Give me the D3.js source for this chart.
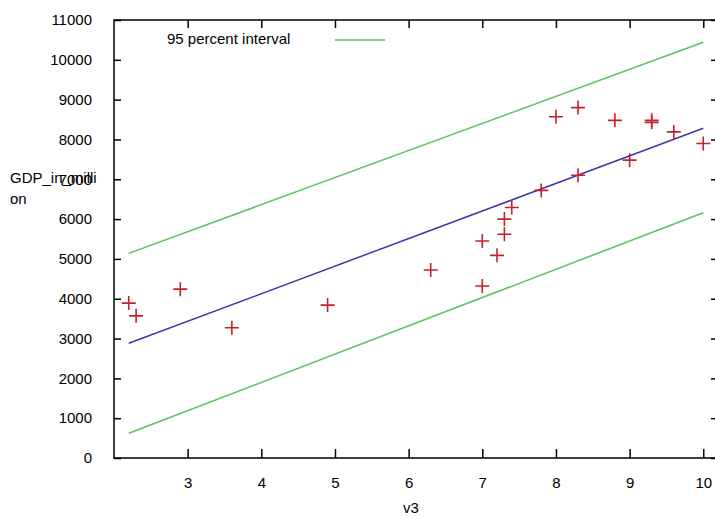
<!DOCTYPE html>
<html>
<head>
<meta charset="utf-8">
<script src="https://cdn.jsdelivr.net/npm/d3@7"></script>
<style>
  html, body { margin: 0; padding: 0; background: #fff; }
  svg { display: block; }
  text { font-family: "Liberation Sans", Arial, sans-serif; font-size: 15px; fill: #000; }
</style>
</head>
<body>
<svg id="chart" width="715" height="517"></svg>
<script>
// Observed data (v3 vs GDP_in_million)
const pointX = [2.2, 2.3, 2.9, 3.6, 4.9, 6.3, 7.0, 7.0, 7.2, 7.3, 7.3, 7.4, 7.8, 8.0, 8.3, 8.3, 8.8, 9.0, 9.3, 9.3, 9.6, 10.0];
const pointY = [3890, 3570, 4240, 3270, 3840, 4720, 5450, 4320, 5090, 5620, 6000, 6290, 6720, 8570, 8800, 7100, 8480, 7480, 8480, 8430, 8190, 7900];

// Fitted line and 95 percent interval (end points)
const lineX  = [2.2, 10.0];
const fitY   = [2880, 8280];
const upperY = [5140, 10440];
const lowerY = [620, 6160];

// Tick labels
const xTicks = [3, 4, 5, 6, 7, 8, 9, 10];
const yTicks = [0, 1000, 2000, 3000, 4000, 5000, 6000, 7000, 8000, 9000, 10000, 11000];

const legendLabel = "95 percent interval";
const xTitle = "v3";
const yTitleLines = ["GDP_in_milli", "on"];

(function () {
const svg = d3.select("#chart");
const pLeft = 114, pRight = 718, pTop = 20, pBottom = 458;

const x = d3.scaleLinear().domain([2, 10.2]).range([pLeft, pRight]);
const y = d3.scaleLinear().domain([0, 11000]).range([pBottom, pTop]);

// frame
svg.append("rect")
  .attr("x", pLeft).attr("y", pTop)
  .attr("width", pRight - pLeft).attr("height", pBottom - pTop)
  .attr("fill", "none").attr("stroke", "#000").attr("stroke-width", 1.5);

// axes (inward ticks)
const bottomAxis = d3.axisBottom(x).tickValues(xTicks).tickSize(-9).tickPadding(19).tickFormat(d3.format("d"));
const gB = svg.append("g").attr("transform", `translate(0,${pBottom})`).call(bottomAxis);
const topAxis = d3.axisTop(x).tickValues(xTicks).tickSize(-8).tickFormat("");
const gT = svg.append("g").attr("transform", `translate(0,${pTop})`).call(topAxis);
const leftAxis = d3.axisLeft(y).tickValues(yTicks).tickSize(-7).tickPadding(22).tickFormat(d3.format("d"));
const gL = svg.append("g").attr("transform", `translate(${pLeft},0)`).call(leftAxis);
const rightAxis = d3.axisRight(y).tickValues(yTicks).tickSize(-7).tickFormat("");
const gR = svg.append("g").attr("transform", `translate(${pRight},0)`).call(rightAxis);

[gB, gT, gL, gR].forEach(g => {
  g.select(".domain").remove();
  g.selectAll(".tick line").attr("stroke", "#000").attr("stroke-width", 1.5);
  g.selectAll("text").attr("font-family", null).attr("font-size", null).style("font-size", "15px").attr("fill", "#000");
});

// lines
const lineGen = d3.line().x(d => x(d[0])).y(d => y(d[1]));
const mk = arr => lineX.map((v, i) => [v, arr[i]]);
svg.append("path").datum(mk(upperY)).attr("d", lineGen)
  .attr("fill", "none").attr("stroke", "#5cbf5c").attr("stroke-width", 1.5);
svg.append("path").datum(mk(lowerY)).attr("d", lineGen)
  .attr("fill", "none").attr("stroke", "#5cbf5c").attr("stroke-width", 1.5);
svg.append("path").datum(mk(fitY)).attr("d", lineGen)
  .attr("fill", "none").attr("stroke", "#3a3aa6").attr("stroke-width", 1.5);

// points (plus markers)
const pts = pointX.map((v, i) => [v, pointY[i]]);
const pg = svg.append("g");
pts.forEach(p => {
  const px = x(p[0]), py = y(p[1]);
  pg.append("path")
    .attr("d", `M${px - 7},${py}H${px + 7}M${px},${py - 7}V${py + 7}`)
    .attr("stroke", "#c8202a").attr("stroke-width", 1.6).attr("fill", "none");
});

// legend
svg.append("text").attr("x", 167).attr("y", 44).text(legendLabel);
svg.append("line").attr("x1", 335).attr("x2", 385).attr("y1", 40).attr("y2", 40)
  .attr("stroke", "#5cbf5c").attr("stroke-width", 1.5);

// axis titles
svg.append("text").attr("x", 411).attr("y", 513).attr("text-anchor", "middle").text(xTitle);
const yt = svg.append("text").attr("x", 10).attr("y", 183);
yTitleLines.forEach((t, i) => {
  yt.append("tspan").attr("x", 10).attr("dy", i === 0 ? 0 : 21).text(t);
});
})();
</script>
</body>
</html>
